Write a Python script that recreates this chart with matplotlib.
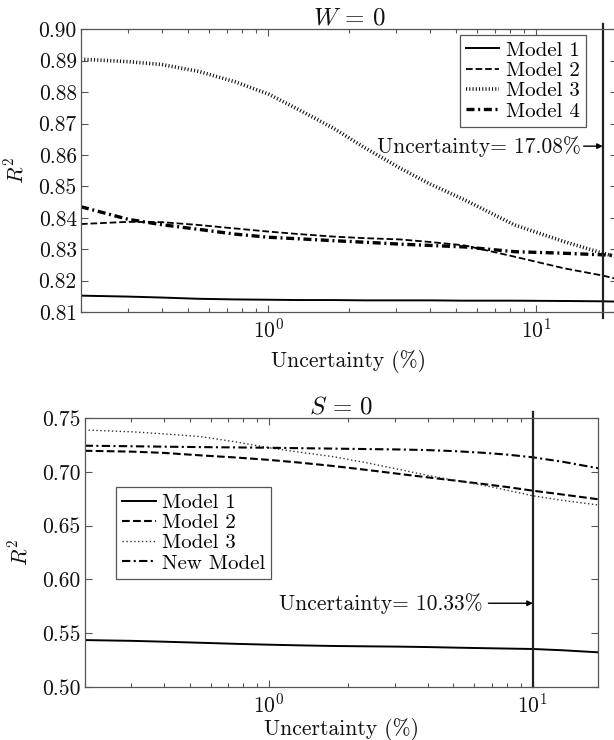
import matplotlib
matplotlib.use("Agg")
import matplotlib.pyplot as plt
from matplotlib.ticker import MultipleLocator, FormatStrFormatter

plt.rcParams['font.family'] = 'cmr10'
plt.rcParams['mathtext.fontset'] = 'cm'
plt.rcParams['axes.formatter.use_mathtext'] = True
plt.rcParams['font.size'] = 15.5

# W = 0 panel
x_top = [0.2, 0.3, 0.4, 0.55, 0.75, 1.0, 1.3, 1.75, 2.3, 3.1, 4.0, 5.4, 8.3, 12.7, 17.7, 20]
m1_top = [0.8152, 0.8149, 0.8146, 0.8142, 0.8140, 0.8139, 0.8138, 0.8138, 0.8137, 0.8137,
          0.8137, 0.8136, 0.8136, 0.8135, 0.8134, 0.8133]
m2_top = [0.8380, 0.8387, 0.8386, 0.8377, 0.8366, 0.8356, 0.8348, 0.8340, 0.8335, 0.8331,
          0.8323, 0.8312, 0.8276, 0.8239, 0.8216, 0.8205]
m3_top = [0.8905, 0.8897, 0.8888, 0.8866, 0.8833, 0.8794, 0.8744, 0.8685, 0.8622, 0.8558,
          0.8508, 0.8457, 0.8377, 0.8324, 0.8287, 0.8275]
m4_top = [0.8435, 0.8395, 0.8378, 0.8363, 0.8348, 0.8338, 0.8333, 0.8327, 0.8322, 0.8316,
          0.8312, 0.8307, 0.8292, 0.8287, 0.8282, 0.8280]
labels_top = ['Model 1', 'Model 2', 'Model 3', 'Model 4']
vline_top = 17.7
note_top = 'Uncertainty= 17.08%'
note_top_y = 0.8628

# S = 0 panel
x_bot = [0.2, 0.3, 0.4, 0.55, 0.75, 1.0, 1.3, 1.75, 2.3, 3.1, 4.0, 5.0, 6.4, 8.0, 10.0, 13.0, 17.7]
m1_bot = [0.5435, 0.5428, 0.5420, 0.5410, 0.5400, 0.5392, 0.5386, 0.5380, 0.5377, 0.5374,
          0.5370, 0.5365, 0.5360, 0.5356, 0.5352, 0.5340, 0.5321]
m2_bot = [0.7198, 0.7190, 0.7178, 0.7155, 0.7135, 0.7113, 0.7088, 0.7056, 0.7022, 0.6983,
          0.6950, 0.6922, 0.6890, 0.6860, 0.6826, 0.6790, 0.6746]
m3_bot = [0.7391, 0.7375, 0.7355, 0.7330, 0.7280, 0.7226, 0.7185, 0.7143, 0.7090, 0.7025,
          0.6968, 0.6925, 0.6880, 0.6830, 0.6779, 0.6735, 0.6693]
new_bot = [0.7245, 0.7240, 0.7236, 0.7232, 0.7229, 0.7226, 0.7222, 0.7218, 0.7214, 0.7210,
           0.7204, 0.7195, 0.7180, 0.7162, 0.7137, 0.7095, 0.7035]
labels_bot = ['Model 1', 'Model 2', 'Model 3', 'New Model']
vline_bot = 10.0
note_bot = 'Uncertainty= 10.33%'
note_bot_y = 0.5778

fig = plt.figure(figsize=(6.14, 7.40), dpi=100)
ax1 = fig.add_axes([0.1319, 0.5784, 0.8730, 0.3820])
ax2 = fig.add_axes([0.1379, 0.0719, 0.8365, 0.3628])

txt = '#111111'


def style_axes(ax, xpad):
    ax.set_xscale('log')
    for s in ax.spines.values():
        s.set_color('#555555')
        s.set_linewidth(0.9)
    ax.tick_params(which='both', direction='in', top=True, right=True, colors='#555555',
                   labelcolor=txt, width=0.8)
    ax.tick_params(which='major', length=5)
    ax.tick_params(axis='y', pad=3)
    ax.tick_params(axis='x', pad=4)
    ax.tick_params(which='minor', length=3)
    ax.set_xlabel('Uncertainty (%)', color=txt, labelpad=xpad)
    ax.set_ylabel('$R^2$', color=txt, labelpad=8)
    ax.yaxis.set_major_formatter(FormatStrFormatter('%.2f'))


# top panel
ax1.plot(x_top, m1_top, color='k', lw=1.4, ls='-', label=labels_top[0])
ax1.plot(x_top, m2_top, color='k', lw=1.3, ls='--', label=labels_top[1])
ax1.plot(x_top, m3_top, color='#111111', lw=2.6, ls=(0, (0.3, 0.6)), label=labels_top[2])
ax1.plot(x_top, m4_top, color='k', lw=2.4, ls=(0, (2.4, 1.1, 0.6, 1.1)), label=labels_top[3])
ax1.set_xlim(0.2, 20)
ax1.set_ylim(0.81, 0.90)
ax1.yaxis.set_major_locator(MultipleLocator(0.01))
style_axes(ax1, 6)
ax1.set_title('$W\\,=\\,0$', pad=3, color=txt, fontsize=18)
ax1.axvline(vline_top, ymin=-0.02, ymax=1.02, color='#222222', lw=1.6, clip_on=False)
ax1.annotate(note_top, xy=(vline_top, note_top_y), xytext=(-22, 0), textcoords='offset pixels',
             ha='right', va='center', color=txt,
             arrowprops=dict(arrowstyle='-|>', color='k', lw=1, mutation_scale=8,
                             shrinkA=0, shrinkB=0))
leg1 = ax1.legend(loc='upper right', bbox_to_anchor=(0.9416, 0.98), fancybox=False,
                  framealpha=1, edgecolor='#555555', handlelength=1.6, handletextpad=0.3,
                  labelspacing=0.08, borderpad=0.3, borderaxespad=0, fontsize=15)
leg1.get_frame().set_linewidth(0.9)

# bottom panel
ax2.plot(x_bot, m1_bot, color='k', lw=1.4, ls='-', label=labels_bot[0])
ax2.plot(x_bot, m2_bot, color='k', lw=1.5, ls='--', label=labels_bot[1])
ax2.plot(x_bot, m3_bot, color='#333333', lw=1.0, ls=(0, (1, 1.8)), label=labels_bot[2])
ax2.plot(x_bot, new_bot, color='k', lw=1.5, ls=(0, (4, 1.6, 1, 1.6)), label=labels_bot[3])
ax2.set_xlim(0.2, 17.7)
ax2.set_ylim(0.50, 0.75)
ax2.yaxis.set_major_locator(MultipleLocator(0.05))
style_axes(ax2, 1)
ax2.set_title('$S\\,=\\,0$', pad=3, color=txt, fontsize=18)
ax2.axvline(vline_bot, ymin=0, ymax=1.025, color='#222222', lw=1.6, clip_on=False)
ax2.annotate(note_bot, xy=(vline_bot, note_bot_y), xytext=(-50, 0), textcoords='offset pixels',
             ha='right', va='center', color=txt,
             arrowprops=dict(arrowstyle='-|>', color='k', lw=1, mutation_scale=8,
                             shrinkA=2, shrinkB=0))
leg2 = ax2.legend(loc='upper left', bbox_to_anchor=(0.061, 0.744), fancybox=False,
                  framealpha=1, edgecolor='#555555', handlelength=1.6, handletextpad=0.3,
                  labelspacing=0.08, borderpad=0.3, borderaxespad=0, fontsize=15)
leg2.get_frame().set_linewidth(0.9)

fig.savefig('out.png', dpi=100, facecolor='white')
